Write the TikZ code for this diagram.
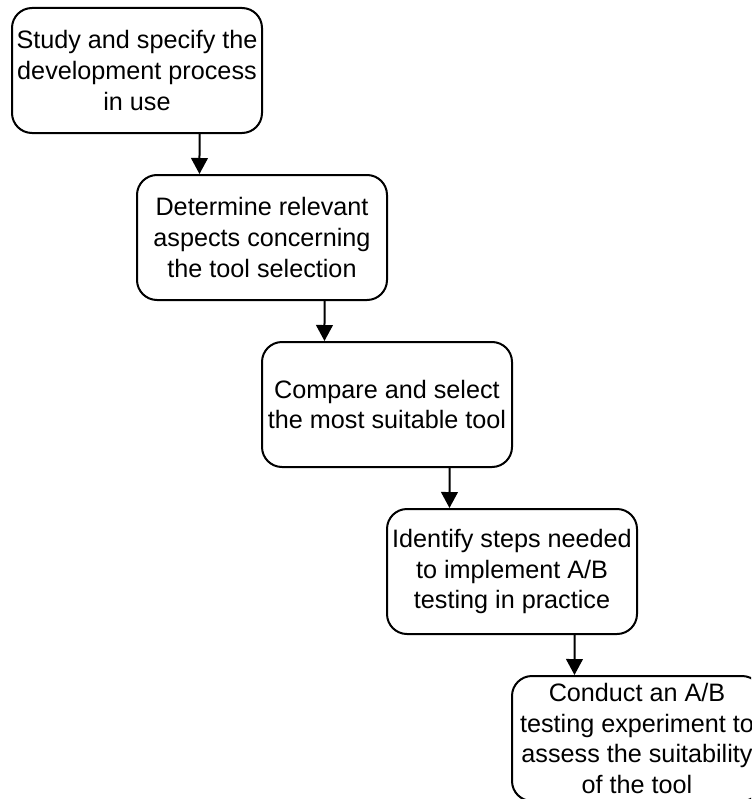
\documentclass[tikz,border=0pt]{standalone}
\usepackage{fontspec}
\setmainfont{Liberation Sans}
\usetikzlibrary{arrows.meta}
\begin{document}
\begin{tikzpicture}[x=0.75pt,y=-0.75pt,
  stepbox/.style={draw=black, line width=1.5pt, rounded corners=15pt, fill=white,
    minimum width=187.5pt, minimum height=93.75pt, inner sep=0pt, align=center,
    font=\fontsize{18.9pt}{23pt}\selectfont},
  flow/.style={line width=1.5pt, -{Triangle[length=12pt,width=12.5pt]}}]
\useasboundingbox (0,0) rectangle (751,799);
\clip (0,0) rectangle (751,799);
\node[stepbox] (s1) at (137,70.5) {Study and specify the\\development process\\in use};
\node[stepbox] (s2) at (262,237.5) {Determine relevant\\aspects concerning\\the tool selection};
\node[stepbox] (s3) at (387,404.5) {Compare and select\\the most suitable tool};
\node[stepbox] (s4) at (512,571.5) {Identify steps needed\\to implement A/B\\testing in practice};
\node[stepbox] (s5) at (637,738.5) {Conduct an A/B\\testing experiment to\\assess the suitability\\of the tool};
\draw[flow] ([xshift=46.9pt]s1.south) -- ([xshift=-46.9pt]s2.north);
\draw[flow] ([xshift=46.9pt]s2.south) -- ([xshift=-46.9pt]s3.north);
\draw[flow] ([xshift=46.9pt]s3.south) -- ([xshift=-46.9pt]s4.north);
\draw[flow] ([xshift=46.9pt]s4.south) -- ([xshift=-46.9pt]s5.north);
\end{tikzpicture}
\end{document}
